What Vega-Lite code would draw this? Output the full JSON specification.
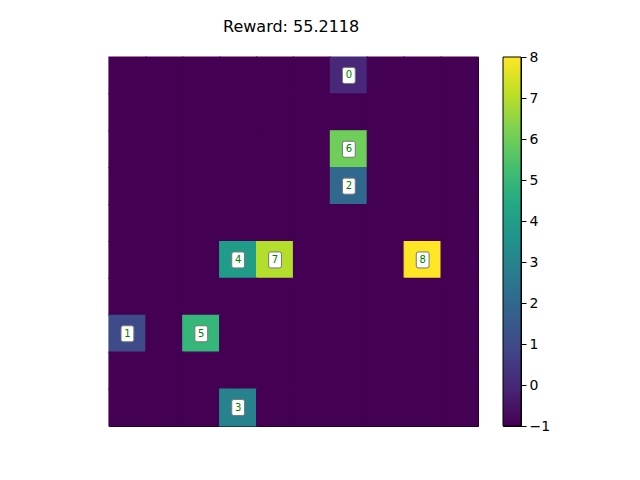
{
 "$schema": "https://vega.github.io/schema/vega-lite/v6.json",
 "padding": {"left": 107, "top": 18, "right": 5, "bottom": 5},
 "background": "white",
 "title": {"text": "Reward: 55.2118", "anchor": "start", "frame": "group", "dx": 114, "fontSize": 16, "font": "DejaVu Sans", "fontWeight": "normal", "color": "black", "offset": 15, "baseline": "top"},
 "config": {"view": {"stroke": "black", "strokeWidth": 1, "fill": "#440154"}, "font": "DejaVu Sans"},
 "spacing": 22,
 "hconcat": [
  {
   "width": 369, "height": 369,
   "data": {"values": [
    {"r":0,"c":0,"v":-1},{"r":0,"c":1,"v":-1},{"r":0,"c":2,"v":-1},{"r":0,"c":3,"v":-1},{"r":0,"c":4,"v":-1},{"r":0,"c":5,"v":-1},{"r":0,"c":6,"v":0},{"r":0,"c":7,"v":-1},{"r":0,"c":8,"v":-1},{"r":0,"c":9,"v":-1},
    {"r":1,"c":0,"v":-1},{"r":1,"c":1,"v":-1},{"r":1,"c":2,"v":-1},{"r":1,"c":3,"v":-1},{"r":1,"c":4,"v":-1},{"r":1,"c":5,"v":-1},{"r":1,"c":6,"v":-1},{"r":1,"c":7,"v":-1},{"r":1,"c":8,"v":-1},{"r":1,"c":9,"v":-1},
    {"r":2,"c":0,"v":-1},{"r":2,"c":1,"v":-1},{"r":2,"c":2,"v":-1},{"r":2,"c":3,"v":-1},{"r":2,"c":4,"v":-1},{"r":2,"c":5,"v":-1},{"r":2,"c":6,"v":6},{"r":2,"c":7,"v":-1},{"r":2,"c":8,"v":-1},{"r":2,"c":9,"v":-1},
    {"r":3,"c":0,"v":-1},{"r":3,"c":1,"v":-1},{"r":3,"c":2,"v":-1},{"r":3,"c":3,"v":-1},{"r":3,"c":4,"v":-1},{"r":3,"c":5,"v":-1},{"r":3,"c":6,"v":2},{"r":3,"c":7,"v":-1},{"r":3,"c":8,"v":-1},{"r":3,"c":9,"v":-1},
    {"r":4,"c":0,"v":-1},{"r":4,"c":1,"v":-1},{"r":4,"c":2,"v":-1},{"r":4,"c":3,"v":-1},{"r":4,"c":4,"v":-1},{"r":4,"c":5,"v":-1},{"r":4,"c":6,"v":-1},{"r":4,"c":7,"v":-1},{"r":4,"c":8,"v":-1},{"r":4,"c":9,"v":-1},
    {"r":5,"c":0,"v":-1},{"r":5,"c":1,"v":-1},{"r":5,"c":2,"v":-1},{"r":5,"c":3,"v":4},{"r":5,"c":4,"v":7},{"r":5,"c":5,"v":-1},{"r":5,"c":6,"v":-1},{"r":5,"c":7,"v":-1},{"r":5,"c":8,"v":8},{"r":5,"c":9,"v":-1},
    {"r":6,"c":0,"v":-1},{"r":6,"c":1,"v":-1},{"r":6,"c":2,"v":-1},{"r":6,"c":3,"v":-1},{"r":6,"c":4,"v":-1},{"r":6,"c":5,"v":-1},{"r":6,"c":6,"v":-1},{"r":6,"c":7,"v":-1},{"r":6,"c":8,"v":-1},{"r":6,"c":9,"v":-1},
    {"r":7,"c":0,"v":1},{"r":7,"c":1,"v":-1},{"r":7,"c":2,"v":5},{"r":7,"c":3,"v":-1},{"r":7,"c":4,"v":-1},{"r":7,"c":5,"v":-1},{"r":7,"c":6,"v":-1},{"r":7,"c":7,"v":-1},{"r":7,"c":8,"v":-1},{"r":7,"c":9,"v":-1},
    {"r":8,"c":0,"v":-1},{"r":8,"c":1,"v":-1},{"r":8,"c":2,"v":-1},{"r":8,"c":3,"v":-1},{"r":8,"c":4,"v":-1},{"r":8,"c":5,"v":-1},{"r":8,"c":6,"v":-1},{"r":8,"c":7,"v":-1},{"r":8,"c":8,"v":-1},{"r":8,"c":9,"v":-1},
    {"r":9,"c":0,"v":-1},{"r":9,"c":1,"v":-1},{"r":9,"c":2,"v":-1},{"r":9,"c":3,"v":3},{"r":9,"c":4,"v":-1},{"r":9,"c":5,"v":-1},{"r":9,"c":6,"v":-1},{"r":9,"c":7,"v":-1},{"r":9,"c":8,"v":-1},{"r":9,"c":9,"v":-1}
   ]},
   "encoding": {
    "x": {"field": "c", "type": "ordinal", "axis": null, "scale": {"type": "band", "paddingInner": 0, "paddingOuter": 0}},
    "y": {"field": "r", "type": "ordinal", "axis": null, "scale": {"type": "band", "paddingInner": 0, "paddingOuter": 0}}
   },
   "layer": [
    {"mark": {"type": "rect", "strokeWidth": 1.2},
     "encoding": {
      "color": {"field": "v", "type": "quantitative", "scale": {"scheme": "viridis", "domain": [-1, 8]}, "legend": null},
      "stroke": {"field": "v", "type": "quantitative", "scale": {"scheme": "viridis", "domain": [-1, 8]}, "legend": null}}},
    {"transform": [{"filter": "datum.v >= 0"}],
     "mark": {"type": "point", "shape": "M -0.55 -1 L 0.55 -1 Q 0.8 -1 0.8 -0.75 L 0.8 0.75 Q 0.8 1 0.55 1 L -0.55 1 Q -0.8 1 -0.8 0.75 L -0.8 -0.75 Q -0.8 -1 -0.55 -1 Z", "filled": true, "fill": "white", "stroke": "#777777", "strokeWidth": 1, "size": 256, "opacity": 1, "fillOpacity": 1}},
    {"transform": [{"filter": "datum.v >= 0"}],
     "mark": {"type": "text", "color": "green", "fontSize": 10, "font": "DejaVu Sans"},
     "encoding": {"text": {"field": "v", "type": "quantitative"}}}
   ]
  },
  {
   "width": 18, "height": 369,
   "data": {"values": [{"lo": -1, "hi": 8}]},
   "mark": {"type": "rect", "stroke": "black", "strokeWidth": 1,
     "fill": {"gradient": "linear", "x1": 0, "y1": 1, "x2": 0, "y2": 0,
       "stops": [
        {"offset": 0, "color": "#440154"}, {"offset": 0.1, "color": "#482475"}, {"offset": 0.2, "color": "#414487"},
        {"offset": 0.3, "color": "#355f8d"}, {"offset": 0.4, "color": "#2a788e"}, {"offset": 0.5, "color": "#21918c"},
        {"offset": 0.6, "color": "#22a884"}, {"offset": 0.7, "color": "#44bf70"}, {"offset": 0.8, "color": "#7ad151"},
        {"offset": 0.9, "color": "#bddf26"}, {"offset": 1, "color": "#fde725"}]}},
   "encoding": {
    "y": {"field": "lo", "type": "quantitative", "scale": {"domain": [-1, 8], "nice": false, "zero": false},
      "axis": {"orient": "right", "values": [-1, 0, 1, 2, 3, 4, 5, 6, 7, 8], "title": null, "grid": false, "tickSize": 5, "tickColor": "black", "domain": false, "labelFontSize": 14, "labelColor": "black", "labelPadding": 3, "labelFont": "DejaVu Sans"}},
    "y2": {"field": "hi"},
    "x": {"datum": 0, "type": "quantitative", "scale": {"domain": [0, 1], "nice": false}, "axis": null},
    "x2": {"datum": 1}
   }
  }
 ]
}
